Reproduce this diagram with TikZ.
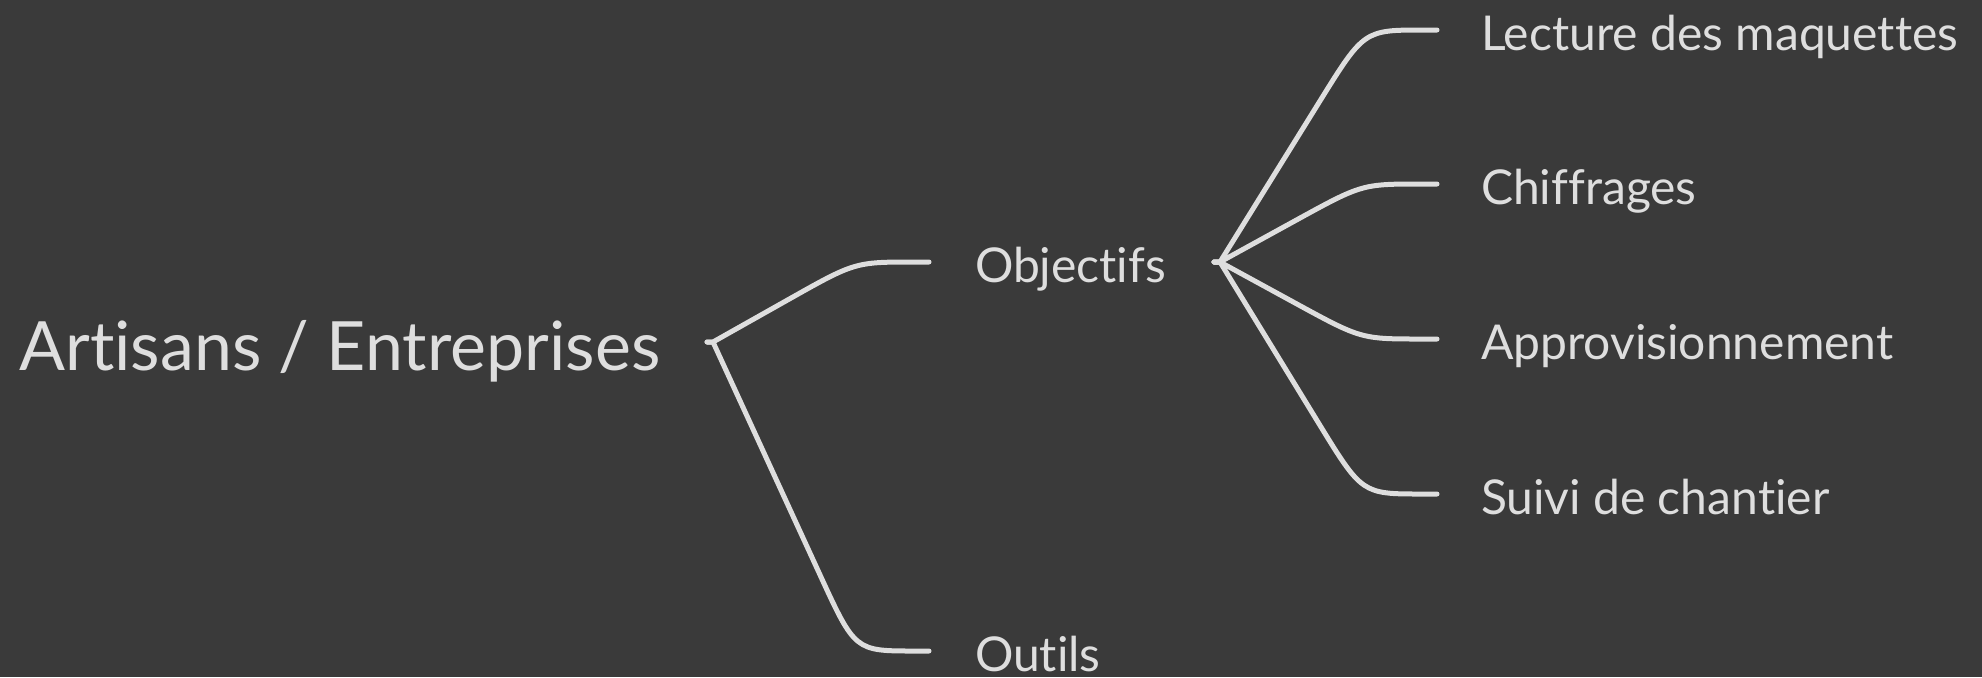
\documentclass[tikz,border=0pt]{standalone}
\usepackage{fontspec}
\setmainfont{Lato}[Ligatures=NoCommon]
\usetikzlibrary{calc}
\definecolor{board}{HTML}{3A3A3A}
\definecolor{chalk}{HTML}{DEDEDE}
\newcommand\twig[5]{\draw[conn] ($(#1)+(-6,0)$) -- (#1) -- ($(#2)!#4!(#1)$) .. controls (#2) .. ($(#2)!#5!(#3)$) -- (#3);}
\begin{document}
\begin{tikzpicture}[x=0.5pt,y=-0.5pt,
  conn/.style={draw=chalk, line width=2.5pt, line cap=round, line join=round},
  lbl/.style={text=chalk, font=\fontsize{24}{28}\selectfont, anchor=west, inner sep=0pt, outer xsep=23pt, text height=20pt, text depth=0pt},
  rootlbl/.style={text=chalk, font=\fontsize{34}{40}\selectfont, anchor=base west, inner sep=0pt}]
\fill[board] (0,0) rectangle (1982,677);
\useasboundingbox (0,0) rectangle (1982,677);
% nodes
\node[rootlbl] (root) at (19,370) {Artisans / Entreprises};
\node[lbl] (obj) at (929,262) {Objectifs};
\node[lbl] (out) at (929,651) {Outils};
\node[lbl, outer xsep=22pt] (lec) at (1437,30) {Lecture des maquettes};
\node[lbl, outer xsep=22pt] (chi) at (1437,184) {Chiffrages};
\node[lbl, outer xsep=22pt] (app) at (1437,339) {Approvisionnement};
\node[lbl, outer xsep=22pt] (sui) at (1437,494) {Suivi de chantier};
% junctions and bends
\coordinate (rj) at (713,342);
\coordinate (oj) at (1220,262);
\coordinate (q1) at (855,262);
\coordinate (q2) at (855,651);
\coordinate (q3) at (1364,30);
\coordinate (q4) at (1362,184);
\coordinate (q5) at (1361,339);
\coordinate (q6) at (1362,494);
% connectors
\twig{rj}{q1}{obj.west}{38pt}{30pt}
\twig{rj}{q2}{out.west}{42pt}{30pt}
\twig{oj}{q3}{lec.west}{42pt}{30pt}
\twig{oj}{q4}{chi.west}{38pt}{30pt}
\twig{oj}{q5}{app.west}{38pt}{30pt}
\twig{oj}{q6}{sui.west}{42pt}{30pt}
\end{tikzpicture}
\end{document}
